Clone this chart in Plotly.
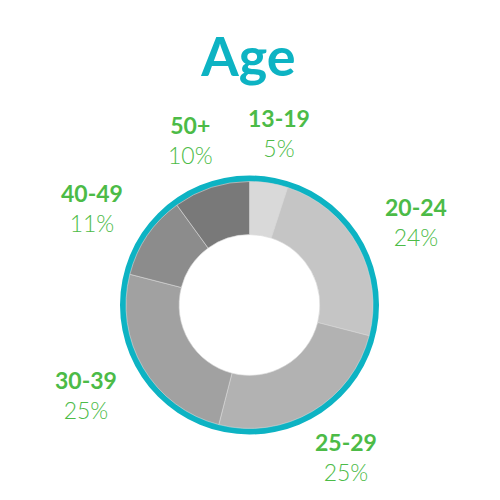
import math
import plotly.graph_objects as go

# age groups and their share (%)
ages = ["13-19", "20-24", "25-29", "30-39", "40-49", "50+"]
shares = [5, 24, 25, 25, 11, 10]
greys = ["#d9d9d9", "#c5c5c5", "#b2b2b2", "#a1a1a1", "#8c8c8c", "#797979"]

W = H = 500
OFF = 8                   # page body margin shifts the plot by 8px
cx, cy = 249.5 - OFF, 305 - OFF   # donut centre in pixels (from top-left)
r_ring, r_pie = 129.5, 123.5
rx_label, ry_label = 190, 175

def dom(r):
    return dict(x=[(cx - r) / W, (cx + r) / W],
                y=[1 - (cy + r) / H, 1 - (cy - r) / H])

fig = go.Figure()

# teal outer ring
fig.add_trace(go.Pie(values=[1], labels=["ring"], hole=r_pie / r_ring - 0.005,
                     domain=dom(r_ring), marker=dict(colors=["#0db3c3"]),
                     textinfo="none", hoverinfo="skip", showlegend=False, sort=False))

# the grey donut
fig.add_trace(go.Pie(values=shares, labels=ages, hole=0.57, domain=dom(r_pie),
                     sort=False, direction="clockwise", rotation=0,
                     marker=dict(colors=greys, line=dict(color="#d6d6d6", width=0.6)),
                     textinfo="none", showlegend=False))

# labels along each slice's mid angle (on an ellipse around the donut)
total = sum(shares)
acc = 0
for a, s in zip(ages, shares):
    mid = (acc + s / 2) / total * 2 * math.pi
    acc += s
    x = cx + rx_label * math.sin(mid)
    y = cy - ry_label * math.cos(mid) + 1
    fig.add_annotation(x=x / W, y=1 - y / H, xref="paper", yref="paper",
                       text=f"<b>{a}</b><br>{s}%", showarrow=False,
                       font=dict(family="Lato", size=23, color="#4cbb47", weight=300),
                       xanchor="center", yanchor="middle")

fig.update_layout(
    width=W, height=H, margin=dict(l=0, r=0, t=0, b=0),
    paper_bgcolor="white", plot_bgcolor="white",
    title=dict(text="<b>Age</b>", x=(248.5 - OFF) / W, y=1 - (57 - OFF) / H,
               xanchor="center", yanchor="middle",
               font=dict(family="Lato", size=54, color="#0db3c3", weight=900)),
)

fig.write_html("out.html")
